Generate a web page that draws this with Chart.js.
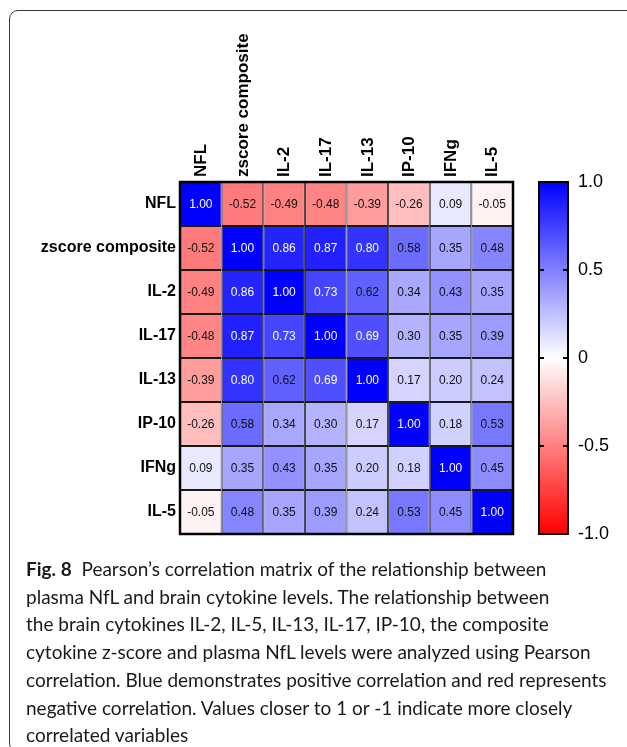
<!DOCTYPE html>
<html>
<head>
<meta charset="utf-8">
<script src="https://cdn.jsdelivr.net/npm/chart.js@4.4.0/dist/chart.umd.min.js"></script>
<style>
    html, body { margin: 0; background: #fff; width: 627px; height: 747px; overflow: hidden; }
    body { position: relative; }
    #frame { position: absolute; left: 9px; top: 10px; width: 760px; height: 740px; border: 1.5px solid #3a3a3a; border-radius: 9px; }
    #grafico { position: absolute; left: 0; top: 0; }
    #legenda { position: absolute; left: 26px; top: 555px; font-family: 'Lato', 'Open Sans', sans-serif; font-size: 19px; color: #1a1a1a; line-height: 27.7px; white-space: nowrap; }
    #legenda b { font-weight: 700; }
</style>
</head>
<body>
<div id="frame"></div>
<canvas id="grafico" width="627" height="560"></canvas>
<div id="legenda">
    <div><b>Fig. 8</b>&nbsp; Pearson’s correlation matrix of the relationship between</div>
    <div>plasma NfL and brain cytokine levels. The relationship between</div>
    <div>the brain cytokines IL-2, IL-5, IL-13, IL-17, IP-10, the composite</div>
    <div>cytokine z-score and plasma NfL levels were analyzed using Pearson</div>
    <div>correlation. Blue demonstrates positive correlation and red represents</div>
    <div>negative correlation. Values closer to 1 or -1 indicate more closely</div>
    <div>correlated variables</div>
</div>
<script>
// Variáveis da matriz
let variaveis = ['NFL', 'zscore composite', 'IL-2', 'IL-17', 'IL-13', 'IP-10', 'IFNg', 'IL-5'];

let linhaNFL = [1.00, -0.52, -0.49, -0.48, -0.39, -0.26, 0.09, -0.05];
let linhaZscore = [-0.52, 1.00, 0.86, 0.87, 0.80, 0.58, 0.35, 0.48];
let linhaIL2 = [-0.49, 0.86, 1.00, 0.73, 0.62, 0.34, 0.43, 0.35];
let linhaIL17 = [-0.48, 0.87, 0.73, 1.00, 0.69, 0.30, 0.35, 0.39];
let linhaIL13 = [-0.39, 0.80, 0.62, 0.69, 1.00, 0.17, 0.20, 0.24];
let linhaIP10 = [-0.26, 0.58, 0.34, 0.30, 0.17, 1.00, 0.18, 0.53];
let linhaIFNg = [0.09, 0.35, 0.43, 0.35, 0.20, 0.18, 1.00, 0.45];
let linhaIL5 = [-0.05, 0.48, 0.35, 0.39, 0.24, 0.53, 0.45, 1.00];

let correlacoes = [linhaNFL, linhaZscore, linhaIL2, linhaIL17, linhaIL13, linhaIP10, linhaIFNg, linhaIL5];

// Escala de cor (barra lateral)
let escalaValores = [-1, -0.5, 0, 0.5, 1];
let escalaLegenda = ['-1.0', '-0.5', '0', '0.5', '1.0'];

const fonte = "'Liberation Sans', Arial, sans-serif";

function corPara(v) {
    if (v >= 0) {
        let c = Math.round(255 * (1 - v));
        return `rgb(${c},${c},255)`;
    }
    let c = Math.round(255 * (1 + v));
    return `rgb(255,${c},${c})`;
}

// Um dataset por linha, cada célula é uma barra flutuante [i, i+1]
let datasets = [];
for (var i = 0; i < correlacoes.length; i++) {
    datasets.push({
        data: variaveis.map(function () { return [i, i + 1]; }),
        valores: correlacoes[i],
        backgroundColor: correlacoes[i].map(corPara),
        borderColor: '#1a1a1a',
        borderWidth: 1,
        borderSkipped: false,
        inflateAmount: 0,
        categoryPercentage: 1,
        barPercentage: 1,
        grouped: false,
        yAxisID: 'y'
    });
}

const pluginMatriz = {
    id: 'matriz',
    afterDatasetsDraw(chart) {
        const ctx = chart.ctx;
        ctx.save();
        ctx.font = '12px ' + fonte;
        ctx.textAlign = 'center';
        ctx.textBaseline = 'middle';
        chart.data.datasets.forEach(function (ds, i) {
            chart.getDatasetMeta(i).data.forEach(function (bar, j) {
                let v = ds.valores[j];
                ctx.fillStyle = v > 0.65 ? '#ffffff' : '#111111';
                ctx.fillText(v.toFixed(2), bar.x, (bar.y + bar.base) / 2 + 0.5);
            });
        });
        // borda externa
        const a = chart.chartArea;
        ctx.lineWidth = 2.5;
        ctx.strokeStyle = '#000';
        ctx.strokeRect(a.left, a.top, a.right - a.left, a.bottom - a.top);

        // barra de cores
        const cb = chart.scales.cb;
        const topo = cb.getPixelForValue(1);
        const base = cb.getPixelForValue(-1);
        const x = a.right + 26;
        const w = 29;
        const grad = ctx.createLinearGradient(0, topo, 0, base);
        grad.addColorStop(0, '#0000ff');
        grad.addColorStop(0.5, '#ffffff');
        grad.addColorStop(1, '#ff0000');
        ctx.fillStyle = grad;
        ctx.fillRect(x, topo, w, base - topo);
        ctx.lineWidth = 2;
        ctx.strokeRect(x, topo, w, base - topo);
        [0.5, 0, -0.5].forEach(function (v) {
            let y = cb.getPixelForValue(v);
            ctx.beginPath();
            ctx.moveTo(x, y); ctx.lineTo(x + 5, y);
            ctx.moveTo(x + w - 5, y); ctx.lineTo(x + w, y);
            ctx.stroke();
        });
        ctx.restore();
    }
};

const ctx = document.getElementById('grafico');
new Chart(ctx, {
    type: 'bar',
    data: {
        labels: variaveis,
        datasets: datasets
    },
    options: {
        responsive: false,
        animation: false,
        layout: { padding: { left: 0, right: 0, top: 0, bottom: 26 } },
        plugins: {
            legend: { display: false },
            tooltip: { enabled: false }
        },
        scales: {
            x: {
                position: 'top',
                offset: true,
                grid: { display: false, drawTicks: false },
                border: { display: false },
                ticks: {
                    autoSkip: false,
                    minRotation: 90,
                    maxRotation: 90,
                    padding: 5,
                    labelOffset: 21,
                    color: '#000',
                    font: { size: 17, weight: 'bold', family: fonte }
                },
                afterFit: function (scale) { scale.height = 182; }
            },
            y: {
                position: 'left',
                min: 0,
                max: 8,
                reverse: true,
                grid: { display: false, drawTicks: false },
                border: { display: false },
                afterBuildTicks: function (scale) {
                    scale.ticks = variaveis.map(function (n, i) { return { value: i + 0.5 }; });
                },
                ticks: {
                    padding: 4,
                    color: '#000',
                    font: { size: 16, weight: 'bold', family: fonte },
                    callback: function (value) { return variaveis[Math.floor(value)]; }
                },
                afterFit: function (scale) {
                    scale.width = 180;
                    scale.paddingTop = 0;
                    scale.paddingBottom = 0;
                }
            },
            cb: {
                position: 'right',
                min: -1,
                max: 1,
                grid: { display: false, drawTicks: false },
                border: { display: false },
                afterBuildTicks: function (scale) {
                    scale.ticks = escalaValores.map(function (v) { return { value: v }; });
                },
                ticks: {
                    padding: 65,
                    color: '#000',
                    font: { size: 18, family: fonte },
                    callback: function (value) { return escalaLegenda[escalaValores.indexOf(value)]; }
                },
                afterFit: function (scale) {
                    scale.width = 114;
                    scale.paddingTop = 0;
                    scale.paddingBottom = 0;
                }
            }
        }
    },
    plugins: [pluginMatriz]
});
</script>
</body>
</html>
